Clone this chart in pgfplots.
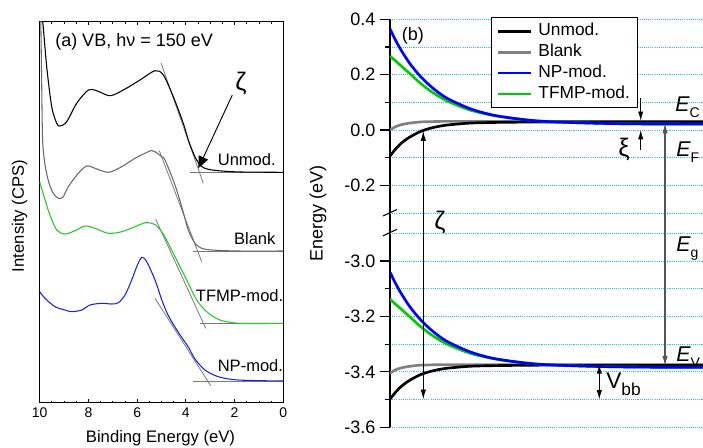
\documentclass[border=0pt]{standalone}
\usepackage{fontspec}
\setmainfont{Liberation Sans}
\usepackage{pgfplots}
\pgfplotsset{compat=1.18}
\usepackage{pgfplotstable}
\usetikzlibrary{arrows.meta}

\definecolor{cgreen}{RGB}{0,204,0}
\definecolor{cblue}{RGB}{0,0,255}
\definecolor{cgray}{RGB}{128,128,128}
\definecolor{agray}{RGB}{105,105,105}
\definecolor{agreen}{RGB}{40,200,40}
\definecolor{ablue}{RGB}{30,30,235}
\definecolor{tang}{RGB}{120,120,120}
\definecolor{gridc}{RGB}{40,200,200}
\definecolor{egray}{RGB}{85,85,85}

% band edges: x in px from the left spine, energies in eV (top = E_C side, b = E_V side)
\pgfplotstableread{
x    un     bl     np     tf     unb    blb    npb    tfb
0   -0.094 0.000 0.365 0.267 -3.499 -3.405 -3.040 -3.138
5   -0.071 0.011 0.328 0.251 -3.476 -3.394 -3.077 -3.154
10  -0.052 0.018 0.295 0.235 -3.457 -3.387 -3.110 -3.170
15  -0.037 0.022 0.266 0.219 -3.442 -3.383 -3.139 -3.186
20  -0.025 0.025 0.239 0.203 -3.430 -3.380 -3.166 -3.202
30  -0.006 0.029 0.195 0.170 -3.411 -3.376 -3.210 -3.235
40   0.006 0.030 0.160 0.142 -3.399 -3.375 -3.245 -3.263
50   0.014 0.031 0.131 0.119 -3.391 -3.374 -3.274 -3.286
60   0.019 0.031 0.109 0.100 -3.386 -3.374 -3.296 -3.305
80   0.025 0.031 0.077 0.072 -3.380 -3.374 -3.328 -3.333
100  0.027 0.031 0.056 0.055 -3.378 -3.374 -3.349 -3.350
120  0.028 0.031 0.044 0.043 -3.377 -3.374 -3.361 -3.362
150  0.029 0.031 0.032 0.032 -3.376 -3.374 -3.373 -3.373
200  0.029 0.031 0.025 0.025 -3.376 -3.374 -3.380 -3.380
250  0.029 0.031 0.022 0.022 -3.376 -3.374 -3.383 -3.383
330  0.029 0.031 0.021 0.021 -3.376 -3.374 -3.384 -3.384
}\bands

\newcommand{\fs}[1]{\fontsize{#1}{#1}\selectfont}

\begin{document}
\begin{tikzpicture}
\useasboundingbox (0,0) rectangle (527.25pt,-335.25pt);

% ---------------- panel (a) ----------------
\begin{axis}[
  scale only axis, width=182.7pt, height=285.75pt,
  at={(29.78pt,-16.28pt)}, anchor=north west,
  xmin=0, xmax=10, x dir=reverse, ymin=-402.7, ymax=-21.7,
  xtick={0,2,4,6,8,10}, xticklabels={0,2,4,6,8,10}, minor x tick num=3,
  ytick=\empty, tick align=inside,
  major tick length=2.6pt, minor tick length=1.5pt,
  axis line style={line width=0.8pt},
  every tick/.style={line width=0.6pt, black},
  xticklabel style={font=\fs{10.5}},
]
\addplot[tang, line width=0.6pt] coordinates {(5.020,-63) (3.284,-183.3)};
\addplot[tang, line width=0.6pt] coordinates {(5.090,-150.7) (3.350,-261.7)};
\addplot[tang, line width=0.6pt] coordinates {(5.238,-219.3) (3.186,-328.3)};
\addplot[tang, line width=0.6pt] coordinates {(5.267,-298.3) (2.980,-385.7)};
\addplot[tang, line width=0.6pt] coordinates {(3.830,-172.3) (0,-172.3)};
\addplot[tang, line width=0.6pt] coordinates {(3.695,-251) (0,-251)};
\addplot[tang, line width=0.6pt] coordinates {(3.420,-323.3) (0,-323.3)};
\addplot[tang, line width=0.6pt] coordinates {(3.695,-381) (0,-381)};

\addplot[black, line width=0.8pt, smooth, tension=0.5] coordinates {
(10.00,-12) (9.877,-22) (9.713,-66.7) (9.507,-106.7) (9.302,-123.3) (9.167,-126)
(8.892,-121.7) (8.481,-103.3) (8.005,-90) (7.660,-90.7) (7.114,-95.7) (6.568,-90)
(5.883,-80) (5.267,-70.7) (4.926,-75) (4.516,-96.7) (4.105,-123.3) (3.900,-140)
(3.695,-153) (3.555,-160) (3.350,-166.5) (3.079,-169.3) (2.529,-171) (1.708,-172) (0,-172.3)};

\addplot[agray, line width=0.8pt, smooth, tension=0.5] coordinates {
(9.96,-10) (9.92,-80) (9.88,-140) (9.78,-165) (9.63,-182) (9.45,-193) (9.236,-198.3)
(9.04,-197) (8.826,-186.7) (8.416,-173.3) (8.071,-166) (7.730,-168.3) (7.184,-172.3)
(6.634,-166.7) (6.088,-158.3) (5.542,-151.7) (5.40,-150.5) (5.267,-151.7) (4.992,-156.7)
(4.856,-160) (4.446,-185) (4.171,-206.7) (3.900,-230) (3.625,-243.3) (3.350,-248.3)
(2.939,-250) (1.847,-251) (0,-251)};

\addplot[agreen, line width=0.8pt, smooth, tension=0.5] coordinates {
(10,-181.7) (9.78,-200) (9.58,-215) (9.302,-230) (8.961,-234) (8.551,-230.7)
(8.140,-226) (7.730,-228.3) (7.184,-233.3) (6.634,-231.7) (6.088,-226.7) (5.677,-222.7)
(5.402,-223.3) (5.267,-224.5) (4.926,-234) (4.516,-253.3) (3.966,-280) (3.555,-300)
(3.145,-311.7) (2.599,-320) (1.778,-323.3) (0,-323.3)};

\addplot[ablue, line width=0.8pt, smooth, tension=0.5] coordinates {
(10,-291.7) (9.782,-298.3) (9.372,-306.7) (8.961,-310) (8.686,-311.7) (8.276,-310)
(7.935,-305) (7.455,-303.3) (7.044,-304) (6.773,-302.7) (6.498,-295) (6.223,-280)
(6.018,-266.7) (5.813,-257.3) (5.608,-261.7) (5.267,-280) (4.957,-302) (4.690,-317)
(4.279,-333.5) (3.900,-347) (3.625,-359) (3.214,-370) (2.668,-376.7) (1.847,-380) (0,-381)};

\draw[black, line width=0.7pt, -{Triangle[length=9pt,width=7.5pt]}]
  (axis cs:2.094,-95) -- (axis cs:3.489,-168.3);
\end{axis}

% ---------------- panel (b) ----------------
\begin{axis}[
  scale only axis, width=247.5pt, height=306pt,
  at={(292.5pt,-14.4pt)}, anchor=north west,
  xmin=0, xmax=330, ymin=-1.073, ymax=0.4,
  axis lines*=left, x axis line style={draw=none}, xtick=\empty,
  y axis line style={line width=1pt},
  ytick={0.4,0.2,0,-0.2,-0.473,-0.673,-0.873,-1.073},
  yticklabels={0.4,0.2,0.0,-0.2,-3.0,-3.2,-3.4,-3.6},
  minor ytick={0.3,0.1,-0.1,-0.573,-0.773,-0.973},
  extra y ticks={-0.3,-0.373}, extra y tick labels={},
  extra y tick style={major tick length=0pt, grid=major},
  tick align=outside, major tick length=7.5pt, minor tick length=3.8pt,
  every tick/.style={line width=0.9pt, black},
  grid=both,
  major grid style={gridc, line width=0.6pt, dash pattern=on 0.8pt off 0.8pt},
  minor grid style={gridc, line width=0.6pt, dash pattern=on 0.8pt off 0.8pt},
  yticklabel style={font=\fs{13.5}},
  legend style={at={(0.305,1.0047)}, anchor=north west, draw=black, line width=0.7pt,
    fill=white, font=\fs{13}, inner xsep=4.5pt, inner ysep=2.5pt, row sep=0.4pt,
    nodes={inner sep=1.5pt, text height=9.5pt, text depth=2.8pt}},
  legend cell align=left,
  legend image code/.code={\draw[#1] (0pt,0pt) -- (24.5pt,0pt);},
]
\addlegendimage{black, line width=2pt}
\addlegendentry{\hspace{3pt}Unmod.}
\addlegendimage{cgray, line width=2pt}
\addlegendentry{\hspace{3pt}Blank}
\addlegendimage{cblue, line width=2pt}
\addlegendentry{\hspace{3pt}NP-mod.}
\addlegendimage{cgreen, line width=2pt}
\addlegendentry{\hspace{3pt}TFMP-mod.\hspace{3pt}}

\addplot[forget plot, cgray, line width=2pt, smooth] table[x=x, y=bl] {\bands};
\addplot[forget plot, black, line width=2pt, smooth] table[x=x, y=un] {\bands};
\addplot[forget plot, cgreen, line width=2pt, smooth] table[x=x, y=tf] {\bands};
\addplot[forget plot, cblue, line width=2pt, smooth] table[x=x, y=np] {\bands};
\addplot[forget plot, cgray, line width=2pt, smooth] table[x=x, y expr=\thisrow{blb}+2.527] {\bands};
\addplot[forget plot, black, line width=2pt, smooth] table[x=x, y expr=\thisrow{unb}+2.527] {\bands};
\addplot[forget plot, cgreen, line width=2pt, smooth] table[x=x, y expr=\thisrow{tfb}+2.527] {\bands};
\addplot[forget plot, cblue, line width=2pt, smooth] table[x=x, y expr=\thisrow{npb}+2.527] {\bands};

\draw[black, line width=0.7pt, {Latex[length=7.5pt,width=4pt]}-{Latex[length=7.5pt,width=4pt]}]
  (axis cs:33.3,-0.003) -- (axis cs:33.3,-0.973);
\draw[black, line width=0.7pt, -{Latex[length=7pt,width=4pt]}]
  (axis cs:250.7,0.114) -- (axis cs:250.7,0.033);
\draw[black, line width=0.7pt, -{Latex[length=7pt,width=4pt]}]
  (axis cs:250.7,-0.072) -- (axis cs:250.7,0.0);
\draw[black, line width=0.7pt, {Latex[length=7pt,width=4pt]}-{Latex[length=7pt,width=4pt]}]
  (axis cs:209.3,-0.846) -- (axis cs:209.3,-0.973);
\draw[egray, line width=0.8pt, {Latex[length=7.5pt,width=4pt]}-{Latex[length=7.5pt,width=4pt]}]
  (axis cs:275,0.024) -- (axis cs:275,-0.852);
\end{axis}

% ---------------- labels (pixel coordinates) ----------------
\begin{scope}[x=0.75pt, y=-0.75pt]
\node[anchor=base west, inner sep=0pt, font=\fs{13.5}] at (55,46.7) {(a) VB, hν = 150 eV};
\node[anchor=base east, inner sep=0pt, font=\fs{12.4}] at (276,165) {Unmod.};
\node[anchor=base east, inner sep=0pt, font=\fs{12.4}] at (275.7,244) {Blank};
\node[anchor=base east, inner sep=0pt, font=\fs{12.4}] at (283.5,301.7) {TFMP-mod.};
\node[anchor=base east, inner sep=0pt, font=\fs{12.4}] at (283.3,371.7) {NP-mod.};
\node[inner sep=0pt, font=\fs{19}] at (241,84) {ζ};
\node[rotate=90, inner sep=0pt, font=\fs{12.5}] at (19.5,216) {Intensity (CPS)};
\node[anchor=base, inner sep=0pt, font=\fs{12.5}] at (160.5,442.7) {Binding Energy (eV)};

\node[anchor=base west, inner sep=0pt, font=\fs{13.5}] at (401.7,40) {(b)};
\node[rotate=90, inner sep=0pt, font=\fs{13.5}] at (318,213) {Energy (eV)};
\node[inner sep=0pt, font=\fs{19}] at (440,222.7) {ζ};
\node[inner sep=0pt, font=\fs{19}] at (624,150) {ξ};
\node[anchor=base west, inner sep=0pt, font=\fs{17}] at (606,388.3) {V\raisebox{-5.5pt}{\fs{13}bb}};
\node[anchor=base west, inner sep=0pt, font=\fs{16}] at (675,111.7) {\textit{E}\raisebox{-4.5pt}{\fs{10.5}C}};
\node[anchor=base west, inner sep=0pt, font=\fs{16}] at (676,156.7) {\textit{E}\raisebox{-4.5pt}{\fs{10.5}F}};
\node[anchor=base west, inner sep=0pt, font=\fs{16}] at (676,251.7) {\textit{E}\raisebox{-4.5pt}{\fs{10.5}g}};
\node[anchor=base west, inner sep=0pt, font=\fs{16}] at (676,361.7) {\textit{E}\raisebox{-4.5pt}{\fs{10.5}V}};

\draw[black, line width=0.8pt] (383,216) -- (397,209.5);
\draw[black, line width=0.8pt] (383,235.8) -- (397,229.3);
\end{scope}
\end{tikzpicture}
\end{document}
